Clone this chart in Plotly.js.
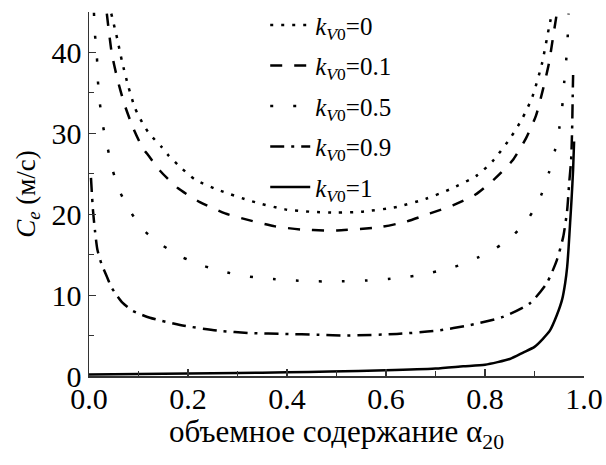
<!DOCTYPE html>
<html>
<head>
<meta charset="utf-8">
<script src="https://cdn.plot.ly/plotly-3.0.1.min.js"></script>
<style>html,body{margin:0;padding:0;background:#fff;}#chart{width:606px;height:465px;}</style>
</head>
<body>
<div id="chart"></div>
<script>
// Data
const seriesNames = ["<i>k</i><sub><i>V</i>0</sub>=0", "<i>k</i><sub><i>V</i>0</sub>=0.1", "<i>k</i><sub><i>V</i>0</sub>=0.5", "<i>k</i><sub><i>V</i>0</sub>=0.9", "<i>k</i><sub><i>V</i>0</sub>=1"];

const alpha_k0 = [0.045, 0.057, 0.067, 0.079, 0.093, 0.107, 0.119, 0.133, 0.147, 0.16, 0.185, 0.214, 0.261, 0.329, 0.396, 0.45, 0.5, 0.55, 0.622, 0.68, 0.73, 0.784, 0.816, 0.851, 0.875, 0.895, 0.915, 0.929, 0.935];
const ce_k0    = [44.8, 41.7, 38.8, 35.9, 33.1, 31.4, 30.2, 29.2, 28.3, 27.3, 25.8, 24.3, 23.0, 21.6, 20.6, 20.3, 20.2, 20.3, 20.9, 21.9, 23.1, 24.8, 26.6, 29.4, 31.8, 34.4, 38.6, 43.0, 44.8];

const alpha_k01 = [0.036, 0.046, 0.057, 0.071, 0.089, 0.109, 0.117, 0.143, 0.180, 0.224, 0.275, 0.321, 0.376, 0.430, 0.477, 0.501, 0.588, 0.642, 0.689, 0.735, 0.780, 0.820, 0.855, 0.883, 0.903, 0.917, 0.929, 0.937, 0.945];
const ce_k01    = [44.8, 39.9, 36.8, 33.7, 30.7, 28.1, 27.5, 25.4, 23.2, 21.5, 20.1, 19.3, 18.5, 18.1, 18.0, 18.0, 18.4, 19.1, 20.1, 21.1, 22.4, 24.4, 26.6, 29.4, 32.2, 35.4, 38.6, 41.7, 44.8];

const alpha_k05 = [0.010, 0.012, 0.016, 0.018, 0.022, 0.028, 0.038, 0.048, 0.063, 0.083, 0.109, 0.147, 0.188, 0.232, 0.279, 0.323, 0.372, 0.418, 0.463, 0.511, 0.558, 0.604, 0.648, 0.693, 0.739, 0.784, 0.822, 0.857, 0.889, 0.913, 0.929, 0.941, 0.950, 0.956, 0.960, 0.964, 0.967, 0.969];
const ce_k05    = [44.9, 42.3, 39.4, 36.5, 33.7, 31.0, 28.1, 25.4, 22.7, 20.4, 18.1, 16.2, 14.7, 13.6, 12.8, 12.3, 12.0, 11.8, 11.7, 11.7, 11.8, 12.0, 12.3, 12.8, 13.5, 14.6, 15.8, 17.4, 19.6, 22.3, 25.1, 27.8, 30.6, 33.3, 36.3, 39.0, 41.9, 44.8];

const alpha_k09 = [0.004, 0.008, 0.012, 0.017, 0.025, 0.036, 0.045, 0.057, 0.067, 0.087, 0.105, 0.123, 0.184, 0.261, 0.329, 0.396, 0.463, 0.521, 0.622, 0.703, 0.770, 0.836, 0.891, 0.925, 0.945, 0.958, 0.966, 0.970, 0.974, 0.976, 0.977, 0.978];
const ce_k09    = [24.5, 20.5, 18.0, 15.6, 13.9, 12.3, 11.0, 9.9, 9.1, 8.1, 7.6, 7.2, 6.3, 5.6, 5.3, 5.2, 5.1, 5.0, 5.2, 5.6, 6.3, 7.3, 9.0, 11.5, 14.3, 17.2, 20.5, 23.8, 26.7, 30.5, 34.0, 37.2];

const alpha_k1 = [0.0, 0.1, 0.2, 0.3, 0.4, 0.487, 0.6, 0.7, 0.756, 0.8, 0.85, 0.877, 0.9, 0.917, 0.931, 0.945, 0.956, 0.962, 0.966, 0.969, 0.972, 0.975, 0.978, 0.980];
const ce_k1    = [0.2, 0.25, 0.3, 0.37, 0.45, 0.55, 0.7, 0.92, 1.2, 1.4, 2.1, 2.9, 3.6, 4.6, 5.6, 7.5, 9.5, 11.5, 13.5, 16.0, 19.0, 22.0, 25.5, 29.0];

const xTickVals = [0, 0.2, 0.4, 0.6, 0.8, 1.0];
const xTickText = ["0.0", "0.2", "0.4", "0.6", "0.8", "1.0"];
const yTickVals = [0, 10, 20, 30, 40];
const yTickText = ["0", "10", "20", "30", "40"];

const xs = [alpha_k0, alpha_k01, alpha_k05, alpha_k09, alpha_k1];
const ys = [ce_k0, ce_k01, ce_k05, ce_k09, ce_k1];
const dashes = ["3px,8px", "12px,12px", "3px,20px", "14px,7px,3px,7px", "solid"];

const traces = xs.map((x, i) => ({
  x: x, y: ys[i], name: seriesNames[i], type: "scatter", mode: "lines", legendgroup: "g" + i,
  line: {color: "#000", width: 2.5, dash: dashes[i], shape: "spline", smoothing: 0.6}
}));

const FONT = "Liberation Serif";
const layout = {
  width: 606, height: 465,
  margin: {l: 89, r: 22, t: 12, b: 89, autoexpand: false},
  paper_bgcolor: "#fff", plot_bgcolor: "#fff",
  font: {family: FONT, color: "#000", size: 28},
  showlegend: true,
  legend: {x: 0.356, y: 1.027, xanchor: "left", yanchor: "top", bgcolor: "rgba(0,0,0,0)",
           font: {family: FONT, size: 25, color: "#000"}, itemwidth: 40, tracegroupgap: 5},
  xaxis: {
    range: [0, 1], showgrid: false, zeroline: false, showline: true, linecolor: "#333", linewidth: 1.5,
    ticks: "inside", ticklen: 7, tickwidth: 1.2, tickcolor: "#333", ticklabelstandoff: -5,
    tickvals: xTickVals, ticktext: xTickText, tickfont: {family: FONT, size: 30},
    minor: {dtick: 0.1, ticks: "inside", ticklen: 5, tickwidth: 1.2, tickcolor: "#333"},
    title: {text: "объемное содержание α<sub>20</sub>", font: {family: FONT, size: 31}, standoff: 5},
    fixedrange: true
  },
  yaxis: {
    range: [0, 45], showgrid: false, zeroline: false, showline: true, linecolor: "#333", linewidth: 1.5,
    ticks: "inside", ticklen: 7, tickwidth: 1.2, tickcolor: "#333",
    tickvals: yTickVals, ticktext: yTickText, tickfont: {family: FONT, size: 30},
    minor: {dtick: 5, ticks: "inside", ticklen: 5, tickwidth: 1.2, tickcolor: "#333"},
    title: {text: "<i>C<sub>e</sub></i> (м/с)", font: {family: FONT, size: 27}, standoff: 8},
    fixedrange: true
  }
};

Plotly.newPlot("chart", traces, layout, {displayModeBar: false, staticPlot: true});
</script>
</body>
</html>
